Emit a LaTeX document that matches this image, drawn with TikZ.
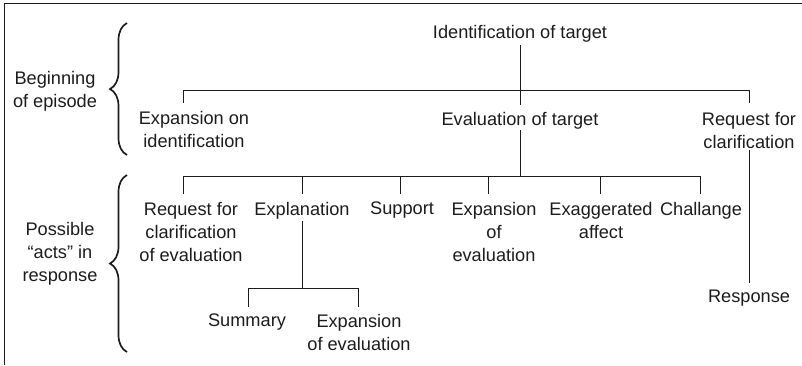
\documentclass[tikz,border=0pt]{standalone}
\usepackage{fontspec}
\setmainfont{Liberation Sans}
\usetikzlibrary{decorations.pathreplacing}
\definecolor{ink}{HTML}{1C1C1C}
\tikzset{
  lbl/.style={anchor=north, inner sep=0pt, align=center, text=ink,
    font=\fontsize{18.2}{23}\selectfont},
  conn/.style={draw=ink, line width=1pt},
  bracestyle/.style={draw=ink, line width=1.7pt, decorate,
    decoration={brace, amplitude=17pt}},
  framestyle/.style={draw=ink, line width=1.5pt}
}
\begin{document}
\begin{tikzpicture}[x=1pt,y=-1pt]
\useasboundingbox (0,0) rectangle (802,365);
% frame
\coordinate (fc) at (4.5,3.5);
\coordinate (fr) at (802,3.5);
\coordinate (fb) at (4.5,365);
\draw[framestyle] (fr) -- (fc) -- (fb);
% nodes
\node[lbl] (id)    at (520,25)  {Identification of target};
\node[lbl] (expid) at (194,111) {Expansion on\\identification};
\node[lbl] (eval)  at (520,112) {Evaluation of target};
\node[lbl] (req)   at (749,112) {Request for\\clarification};
\node[lbl] (reqc)  at (191,202) {Request for\\clarification\\of evaluation};
\node[lbl] (expl)  at (302,202) {Explanation};
\node[lbl] (supp)  at (402,202) {Support};
\node[lbl] (expe)  at (494,202) {Expansion\\of\\evaluation};
\node[lbl] (exag)  at (601,202) {Exaggerated\\affect};
\node[lbl] (chal)  at (701,202) {Challange};
\node[lbl] (summ)  at (247,314) {Summary};
\node[lbl] (expe2) at (359,314) {Expansion\\of evaluation};
\node[lbl] (resp)  at (749,290) {Response};
\node[lbl] (beg)   at (55,71)   {Beginning\\of episode};
\node[lbl] (poss)  at (60,222)  {Possible\\“acts” in\\response};
% junction coordinates
\coordinate (j1l) at (183,90);
\coordinate (j1r) at (749,90);
\coordinate (j2)  at (520,176);
\coordinate (j2l) at (183,176);
\coordinate (j2r) at (700,176);
\coordinate (j3)  at (302,288);
\coordinate (j3l) at (248,288);
\coordinate (j3r) at (358,288);
% connectors level 1
\draw[conn] ([yshift=-20]id.north) -- ([yshift=7]eval.north);
\draw[conn] (j1l) -- (j1r);
\draw[conn] (j1l) -- ++(0,13);
\draw[conn] (j1r) -- ++(0,13);
\draw[conn] ([yshift=-38]req.north) -- ([yshift=7]resp.north);
% connectors level 2
\draw[conn] ([yshift=-18]eval.north) -- (j2);
\draw[conn] (j2l) -- (j2r);
\foreach \x in {183,302,400,488,600,700}
  \draw[conn] (\x,176) -- (\x,194);
% connectors level 3
\draw[conn] ([yshift=-19]expl.north) -- (j3);
\draw[conn] (j3l) -- (j3r);
\draw[conn] (j3l) -- ++(0,19);
\draw[conn] (j3r) -- ++(0,19);
% braces
\coordinate (b1t) at (127,23);
\coordinate (b1b) at (127,155);
\coordinate (b2t) at (127,175);
\coordinate (b2b) at (127,352);
\draw[bracestyle] (b1b) -- (b1t);
\draw[bracestyle] (b2b) -- (b2t);
\end{tikzpicture}
\end{document}
